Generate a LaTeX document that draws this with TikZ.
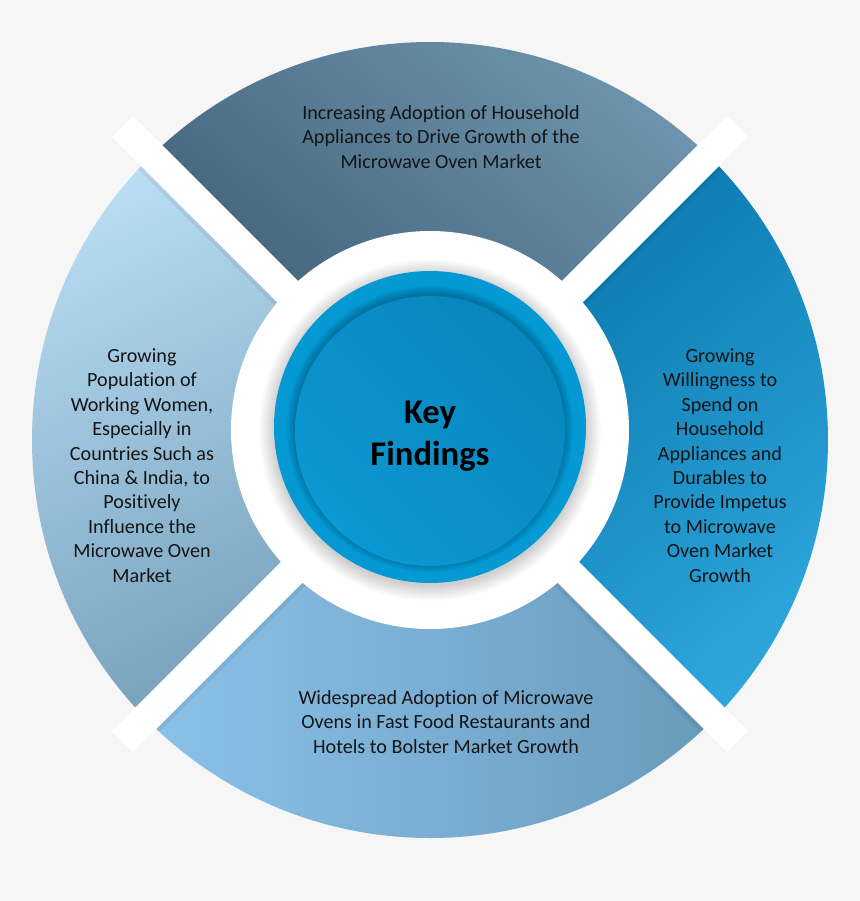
\documentclass[tikz,border=0pt]{standalone}
\usepackage{fontspec}
\setmainfont{Carlito}[Ligatures={NoCommon}]
\definecolor{bgGrey}{HTML}{F6F6F6}
\definecolor{segTopA}{HTML}{6E95AD}
\definecolor{segTopB}{HTML}{3A5A71}
\definecolor{segRightA}{HTML}{0573A8}
\definecolor{segRightB}{HTML}{2EA6DC}
\definecolor{segBotA}{HTML}{8CC3EB}
\definecolor{segBotB}{HTML}{6899BA}
\definecolor{segLeftA}{HTML}{B8DDF4}
\definecolor{segLeftB}{HTML}{7099B4}
\definecolor{ringBlue}{HTML}{0499D3}
\definecolor{diskA}{HTML}{0986BD}
\definecolor{diskB}{HTML}{0C98D3}
\begin{document}
\begin{tikzpicture}[x=0.75pt,y=0.75pt,
    segtext/.style={align=center,text=black!92,font=\fontsize{15.1}{18.3}\selectfont},
    keytext/.style={align=center,text=black,font=\bfseries\fontsize{26}{31.5}\selectfont},
    crossbar/.style={fill=white}]
        \fill[bgGrey] (0,0) rectangle (860,-901);
        \useasboundingbox (0,0) rectangle (860,-901);
        \coordinate (O) at (430,-440);
        \coordinate (X) at (430,-434);
        \coordinate (W) at (430,-430);
        \coordinate (R) at (430,-427);
        \coordinate (D) at (430,-431);
        % four segments
        \begin{scope}
            \clip (O) circle (398);
            \begin{scope}
                \clip (X) -- ++(-420,420) -- ++(840,0) -- cycle;
                \shade[top color=segTopA,bottom color=segTopB,shading angle=-40] (130,-440) rectangle (730,-30);
            \end{scope}
            \begin{scope}
                \clip (X) -- ++(420,420) -- ++(0,-840) -- cycle;
                \shade[top color=segRightA,bottom color=segRightB,shading angle=40] (420,-130) rectangle (840,-750);
            \end{scope}
            \begin{scope}
                \clip (X) -- ++(-420,-420) -- ++(840,0) -- cycle;
                \shade[left color=segBotA,right color=segBotB] (130,-430) rectangle (730,-850);
            \end{scope}
            \begin{scope}
                \clip (X) -- ++(-420,420) -- ++(0,-840) -- cycle;
                \shade[top color=segLeftA,bottom color=segLeftB,shading angle=25] (20,-130) rectangle (440,-750);
            \end{scope}
            % soft shadow of the bars
            \fill[black,opacity=0.06,shift={(X)},shift={(0,-3)},rotate=-45] (-435,-17) rectangle (435,17);
            \fill[black,opacity=0.06,shift={(X)},shift={(0,-3)},rotate=45] (-435,-17) rectangle (435,17);
        \end{scope}
        % white cross
        \fill[crossbar,shift={(X)},rotate=-45] (-435,-15) rectangle (435,15);
        \fill[crossbar,shift={(X)},rotate=45] (-435,-15) rectangle (435,15);
        % white disk and glow
        \fill[white] (W) circle (199);
        \foreach \r in {1,...,16}
            \fill[black,opacity=0.011] (430,-430) circle (155+\r);
        % center button
        \fill[ringBlue] (R) circle (156);
        \foreach \r in {1,...,9}
            \fill[black,opacity=0.028] (430,-429) circle (134+\r);
        \shade[top color=diskA,bottom color=diskB,shading angle=-45] (D) circle (135);
        % texts
        \node[segtext] (topTxt) at (441,-137) {Increasing Adoption of Household\\Appliances to Drive Growth of the\\Microwave Oven Market};
        \node[segtext] (leftTxt) at (142,-465.5) {Growing\\Population of\\Working Women,\\Especially in\\Countries Such as\\China \& India, to\\Positively\\Influence the\\Microwave Oven\\Market};
        \node[segtext] (rightTxt) at (720,-465.5) {Growing\\Willingness to\\Spend on\\Household\\Appliances and\\Durables to\\Provide Impetus\\to Microwave\\Oven Market\\Growth};
        \node[segtext] (botTxt) at (446,-722) {Widespread Adoption of Microwave\\Ovens in Fast Food Restaurants and\\Hotels to Bolster Market Growth};
        \node[keytext] (keyFind) at (430,-436) {Key\\Findings};
    \end{tikzpicture}
\end{document}
